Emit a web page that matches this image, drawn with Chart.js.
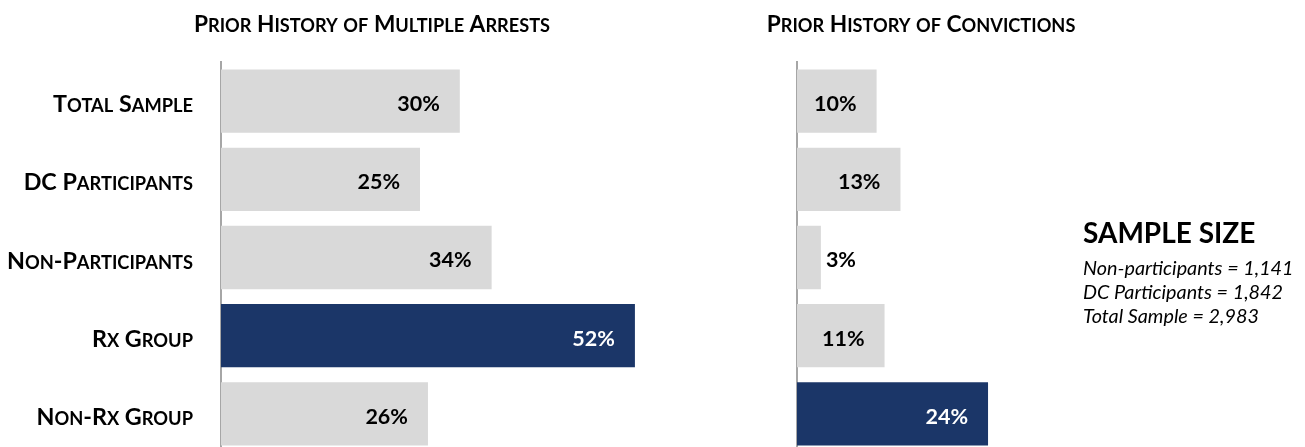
<!DOCTYPE html>
<html>
<head>
<meta charset="utf-8">
<script src="https://cdn.jsdelivr.net/npm/chart.js@4.4.0/dist/chart.umd.min.js"></script>
<style>
  html, body { margin:0; padding:0; background:#fff; overflow:hidden; }
  #wrap { position:relative; width:1305px; height:447px; overflow:hidden; }
  .box { position:absolute; top:0; height:453px; }
  #sample { position:absolute; left:1083px; top:216px; font-family:Lato, sans-serif; color:#000; white-space:nowrap; }
  #sample .h { font-weight:bold; font-size:28px; line-height:32px; margin-bottom:7px; }
  #sample .l { font-style:italic; font-size:19.8px; line-height:24px; }
</style>
</head>
<body>
<div id="wrap">
  <div class="box" style="left:0;width:700px;"><canvas id="c1"></canvas></div>
  <div class="box" style="left:700px;width:605px;"><canvas id="c2"></canvas></div>
  <div id="sample">
    <div class="h">SAMPLE SIZE</div>
    <div class="l">Non-participants = 1,141</div>
    <div class="l">DC Participants = 1,842</div>
    <div class="l">Total Sample = 2,983</div>
  </div>
</div>
<script>
const categories = ["Total Sample", "DC Participants", "Non-Participants", "Rx Group", "Non-Rx Group"];
const arrestsValues = [30, 25, 34, 52, 26];
const convictionsValues = [10, 13, 3, 11, 24];
const arrestsTitle = "Prior History of Multiple Arrests";
const convictionsTitle = "Prior History of Convictions";
const arrestsColors = ["#d9d9d9", "#d9d9d9", "#d9d9d9", "#1b3668", "#d9d9d9"];
const convictionsColors = ["#d9d9d9", "#d9d9d9", "#d9d9d9", "#d9d9d9", "#1b3668"];

const FAMILY = "Lato, 'DejaVu Sans', sans-serif";

function drawSmallCaps(ctx, text, x, y, big, small, align) {
  const runs = [];
  for (const ch of text) {
    const lower = ch !== ch.toUpperCase();
    const size = lower ? small : big;
    const c = ch.toUpperCase();
    if (runs.length && runs[runs.length - 1].size === size) runs[runs.length - 1].t += c;
    else runs.push({ t: c, size });
  }
  let total = 0;
  runs.forEach(r => { ctx.font = `bold ${r.size}px ${FAMILY}`; r.w = ctx.measureText(r.t).width; total += r.w; });
  let cx = align === 'right' ? x - total : (align === 'center' ? x - total / 2 : x);
  ctx.textAlign = 'left';
  ctx.textBaseline = 'alphabetic';
  ctx.fillStyle = '#000';
  runs.forEach(r => { ctx.font = `bold ${r.size}px ${FAMILY}`; ctx.fillText(r.t, cx, y); cx += r.w; });
}

const decorPlugin = {
  id: 'decor',
  afterDraw(chart) {
    const o = chart.options.plugins.decor;
    const ctx = chart.ctx;
    ctx.save();
    drawSmallCaps(ctx, o.title, o.titleX, 32, 22.7, 18.2, 'center');
    if (o.showLabels) {
      const ys = chart.scales.y;
      categories.forEach((c, i) => {
        drawSmallCaps(ctx, c, ys.right - 28, ys.getPixelForValue(i) + 11, 23.3, 18.3, 'right');
      });
    }
    const meta = chart.getDatasetMeta(0);
    const ds = chart.data.datasets[0];
    ctx.font = `bold 21.5px ${FAMILY}`;
    ctx.textBaseline = 'middle';
    meta.data.forEach((bar, i) => {
      const v = ds.data[i];
      const txt = v + '%';
      const dark = ds.backgroundColor[i] !== '#d9d9d9';
      if (v >= 8) {
        ctx.textAlign = 'right';
        ctx.fillStyle = dark ? '#fff' : '#000';
        ctx.fillText(txt, bar.x - 20, bar.y + 3);
      } else {
        ctx.textAlign = 'left';
        ctx.fillStyle = '#000';
        ctx.fillText(txt, bar.x + 5, bar.y + 3);
      }
    });
    ctx.restore();
  }
};

function makeChart(id, values, colors, title, axisWidth, padRight, titleX, showLabels) {
  return new Chart(document.getElementById(id), {
    type: 'bar',
    data: {
      labels: categories,
      datasets: [{ data: values, backgroundColor: colors, borderWidth: 0,
        barPercentage: 0.81, categoryPercentage: 1.0 }]
    },
    options: {
      indexAxis: 'y',
      responsive: true,
      maintainAspectRatio: false,
      animation: false,
      layout: { padding: { top: 62, bottom: 0, left: 0, right: padRight } },
      scales: {
        x: { display: false, min: 0, max: 60 },
        y: {
          display: true,
          grid: { display: false },
          border: { display: true, color: '#a6a6a6', width: 2 },
          ticks: { display: false },
          afterFit(scale) { scale.width = axisWidth; }
        }
      },
      plugins: {
        legend: { display: false },
        tooltip: { enabled: false },
        decor: { title, titleX, showLabels }
      }
    },
    plugins: [decorPlugin]
  });
}

makeChart('c1', arrestsValues, arrestsColors, arrestsTitle, 221, 1.4, 372, true);
makeChart('c2', convictionsValues, convictionsColors, convictionsTitle, 97, 30.4, 221, false);
</script>
</body>
</html>
